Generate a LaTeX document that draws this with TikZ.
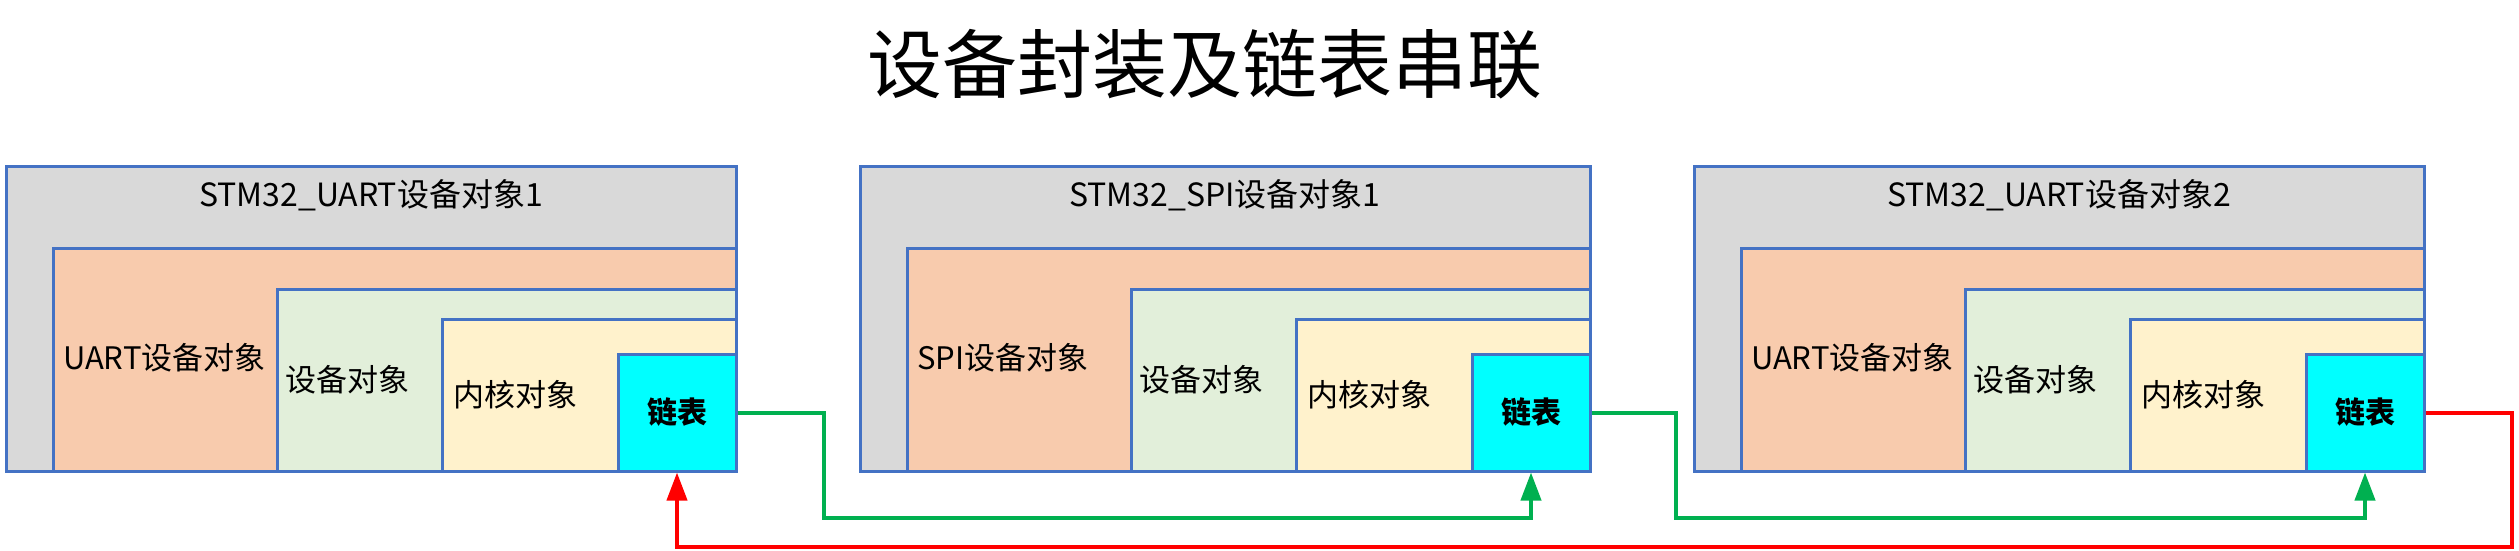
\documentclass[tikz,border=0pt]{standalone}
\usepackage{fontspec}
\setmainfont{Noto Sans CJK SC}
\definecolor{outerc}{HTML}{D9D9D9}
\definecolor{uartc}{HTML}{F8CBAD}
\definecolor{devc}{HTML}{E2EFDA}
\definecolor{kernc}{HTML}{FFF2CC}
\definecolor{edgec}{HTML}{4472C4}
\definecolor{listc}{HTML}{00FFFF}
\definecolor{linkg}{HTML}{00B050}
\tikzset{
  box/.style={draw=edgec, line width=3pt},
  listbox/.style={box, fill=listc, minimum width=118pt, minimum height=117pt, inner sep=0pt, font=\fontsize{30}{30}\selectfont\bfseries},
  lbl/.style={anchor=west, inner sep=0pt, font=\fontsize{31}{31}\selectfont},
  link/.style={line width=4pt, -{Triangle[width=20pt,length=28pt]}},
}
\usetikzlibrary{arrows.meta}
% one device block: shift, id, title, first label
\newcommand{\devblock}[4]{%
  \begin{scope}[xshift=#1]
    \draw[box, fill=outerc] (6,166) rectangle (736,471);
    \node[font=\fontsize{32}{32}\selectfont] (title#2) at (371,195) {#3};
    \draw[box, fill=uartc] (53,248) rectangle (736,471);
    \draw[box, fill=devc] (277,289) rectangle (736,471);
    \draw[box, fill=kernc] (442,319) rectangle (736,471);
    \node[lbl] (uart#2) at (63,358) {#4};
    \node[lbl] (dev#2) at (285,380) {设备对象};
    \node[lbl] (kern#2) at (453,395) {内核对象};
    \node[listbox] (list#2) at (677,412.5) {链表};
  \end{scope}}
\begin{document}
\begin{tikzpicture}[x=1pt, y=-1pt]
  \useasboundingbox (0,0) rectangle (2519,551);
  \node[font=\fontsize{75}{75}\selectfont] (head) at (1205,64) {设备封装及链表串联};
  \devblock{0pt}{1}{STM32\_UART设备对象1}{UART设备对象}
  \devblock{854pt}{2}{STM32\_SPI设备对象1}{SPI设备对象}
  \devblock{1688pt}{3}{STM32\_UART设备对象2}{UART设备对象}
  % links between list nodes
  \draw[link, linkg] (list1.east) -- (824,412.5) -- (824,518) -| (list2.south);
  \draw[link, linkg] (list2.east) -- (1676,412.5) -- (1676,518) -| (list3.south);
  \draw[link, red] (list3.east) -- (2512,412.5) -- (2512,547) -| (list1.south);
\end{tikzpicture}
\end{document}
